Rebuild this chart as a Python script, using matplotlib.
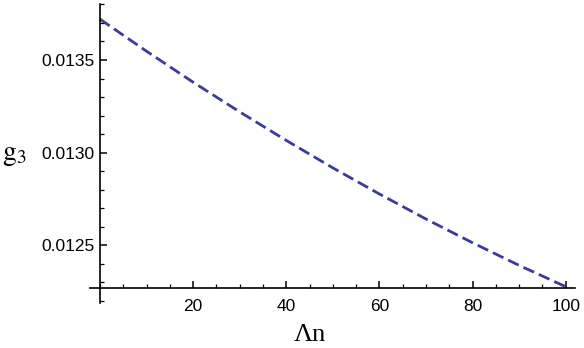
import numpy as np
import matplotlib
matplotlib.use("Agg")
import matplotlib.pyplot as plt
from matplotlib.ticker import MultipleLocator, FixedLocator, FormatStrFormatter

# valores
lambda_n = [0, 10, 20, 30, 40, 50, 60, 70, 80, 90, 100]
g3 = [0.013720, 0.013547, 0.013380, 0.013220, 0.013066, 0.012918,
      0.012777, 0.012642, 0.012514, 0.012392, 0.012277]

xticks = [20, 40, 60, 80, 100]
yticks = [0.0125, 0.0130, 0.0135]

plt.rcParams['font.family'] = ['Liberation Sans', 'DejaVu Sans']
plt.rcParams['mathtext.fontset'] = 'stix'

fig = plt.figure(figsize=(5.84, 3.48), dpi=100)
ax = fig.add_axes([90 / 584, 45 / 348, 485 / 584, 299 / 348])

ax.plot(lambda_n, g3, color='#3b3b9b', lw=2.0, linestyle=(0, (4.2, 1.9)))

ax.set_xlim(-2.15, 102.0)
ax.set_ylim(0.012189, 0.013802)

ax.spines['left'].set_position(('data', 0))
ax.spines['bottom'].set_position(('data', 0.012269))
ax.spines['top'].set_visible(False)
ax.spines['right'].set_visible(False)
for s in ['left', 'bottom']:
    ax.spines[s].set_linewidth(1.2)

ax.xaxis.set_major_locator(FixedLocator(xticks))
ax.xaxis.set_minor_locator(MultipleLocator(5))
ax.yaxis.set_major_locator(FixedLocator(yticks))
ax.yaxis.set_minor_locator(MultipleLocator(0.0001))
ax.yaxis.set_major_formatter(FormatStrFormatter('%.4f'))

ax.tick_params(which='major', direction='in', length=5, width=1.1, labelsize=12.5)
ax.tick_params(which='minor', direction='in', length=3, width=0.9)
ax.tick_params(axis='x', which='major', pad=8)
ax.tick_params(axis='y', which='major', pad=4)

ax.set_xlabel('Λn', fontsize=19, family='Liberation Serif', va='center')
ax.xaxis.set_label_coords(0.4536, -0.107)
ax.set_ylabel(r'$\mathrm{g_3}$', fontsize=20, rotation=0, va='center', ha='center')
ax.yaxis.set_label_coords(-0.155, 0.495)

fig.savefig('out.png', dpi=100)
